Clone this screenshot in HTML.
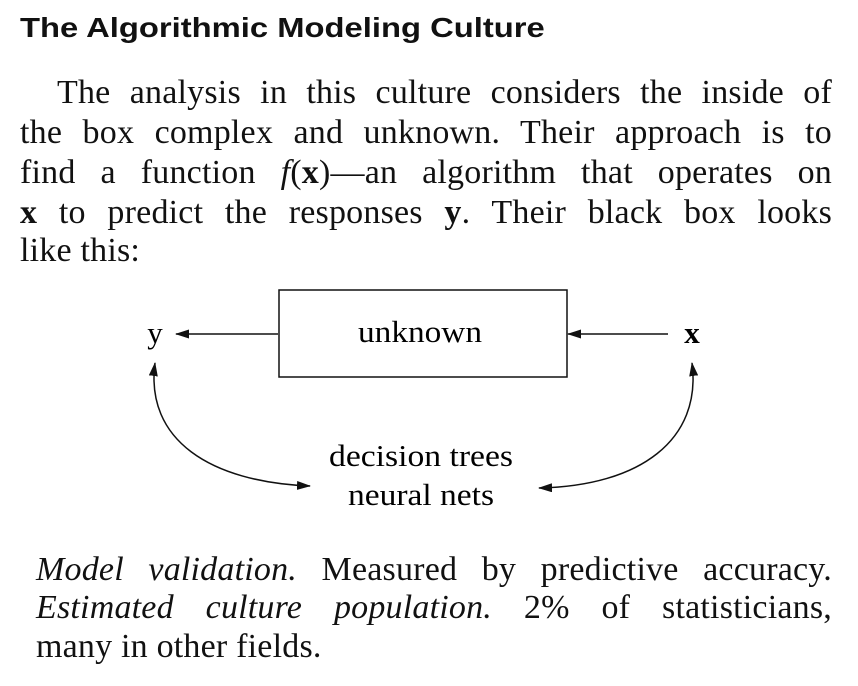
<!DOCTYPE html>
<html><head><meta charset="utf-8"><style>
body{margin:0;background:#fff;width:858px;height:686px;position:relative;overflow:hidden;color:#111}
.t{position:absolute;left:20px;top:12px;font:bold 28px "Liberation Sans",sans-serif;transform:scaleX(1.17);transform-origin:0 0;white-space:nowrap}
.l{position:absolute;font:34px/1 "Liberation Serif",serif;letter-spacing:0.2px;text-align:justify;text-align-last:justify;white-space:nowrap}
.l.n{text-align-last:left}
</style></head><body>
<div class="t">The Algorithmic Modeling Culture</div>
<div class="l" style="left:57px;top:76px;width:775px">The analysis in this culture considers the inside of</div>
<div class="l" style="left:20px;top:116px;width:812px">the box complex and unknown. Their approach is to</div>
<div class="l" style="left:20px;top:156px;width:812px">find a function <i>f</i>(<b>x</b>)—an algorithm that operates on</div>
<div class="l" style="left:20px;top:196px;width:812px"><b>x</b> to predict the responses <b>y</b>. Their black box looks</div>
<div class="l n" style="left:20px;top:234px">like this:</div>
<svg width="858" height="686" style="position:absolute;left:0;top:0">
<defs><marker id="a" markerWidth="14" markerHeight="9" refX="13" refY="4.5" orient="auto-start-reverse" markerUnits="userSpaceOnUse"><path d="M0,0L14,4.5L0,9z" fill="#111"/></marker></defs>
<rect x="279" y="290" width="288" height="87" fill="none" stroke="#111" stroke-width="1.5"/>
<text x="358" y="342" textLength="124" lengthAdjust="spacingAndGlyphs" font-family="Liberation Serif" font-size="31">unknown</text>
<text x="155" y="343" text-anchor="middle" font-family="Liberation Serif" font-size="31">y</text>
<text x="692" y="343" text-anchor="middle" font-family="Liberation Serif" font-weight="bold" font-size="31">x</text>
<line x1="278" y1="334" x2="176" y2="334" stroke="#111" stroke-width="1.5" marker-end="url(#a)"/>
<line x1="668" y1="334" x2="568" y2="334" stroke="#111" stroke-width="1.5" marker-end="url(#a)"/>
<path d="M155,363 C145,440 210,482 310,486" fill="none" stroke="#111" stroke-width="1.5" marker-start="url(#a)" marker-end="url(#a)"/>
<path d="M692,363 C702,440 640,486 539,488" fill="none" stroke="#111" stroke-width="1.5" marker-start="url(#a)" marker-end="url(#a)"/>
<text x="329" y="466" textLength="184" lengthAdjust="spacingAndGlyphs" font-family="Liberation Serif" font-size="31">decision trees</text>
<text x="348" y="505" textLength="146" lengthAdjust="spacingAndGlyphs" font-family="Liberation Serif" font-size="31">neural nets</text>
</svg>
<div class="l" style="left:36px;top:553px;width:796px"><i>Model validation.</i> Measured by predictive accuracy.</div>
<div class="l" style="left:36px;top:591px;width:796px"><i>Estimated culture population.</i> 2% of statisticians,</div>
<div class="l n" style="left:36px;top:630px">many in other fields.</div>
</body></html>
